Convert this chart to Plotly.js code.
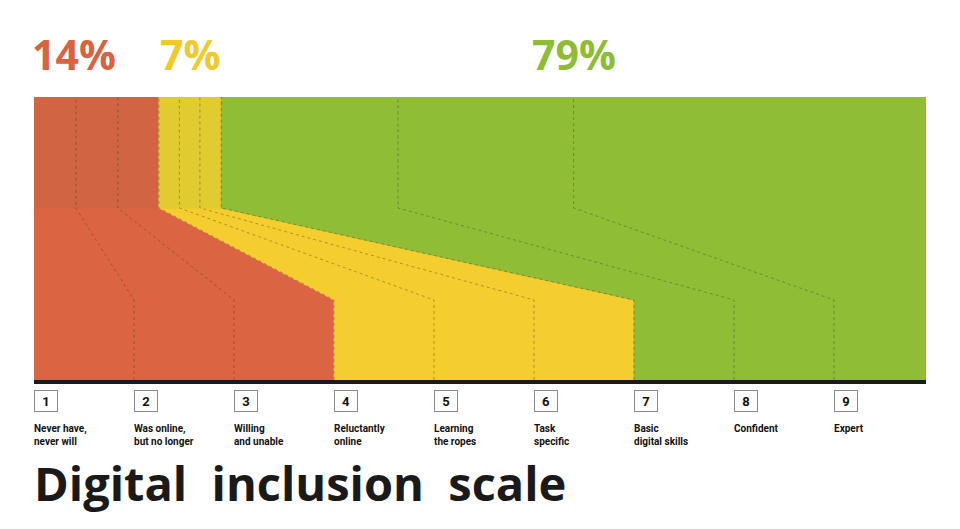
<!DOCTYPE html>
<html>
<head>
<meta charset="utf-8">
<script src="https://cdn.plot.ly/plotly-3.0.1.min.js"></script>
<style>html,body{margin:0;padding:0;background:#fff}#chart{width:960px;height:529px}</style>
</head>
<body>
<div id="chart"></div>
<script>
// ---- data ----
const levels = [1, 2, 3, 4, 5, 6, 7, 8, 9];
const levelNames = [
  "Never have,<br>never will",
  "Was online,<br>but no longer",
  "Willing<br>and unable",
  "Reluctantly<br>online",
  "Learning<br>the ropes",
  "Task<br>specific",
  "Basic<br>digital skills",
  "Confident",
  "Expert"
];
// share of population (%) for each level, as shown in the top band
const levelShares = [4.7, 4.7, 4.6, 2.3, 2.3, 2.4, 19.8, 19.7, 39.5];
const groupLabels = ["14%", "7%", "79%"];
const groupShares = [14, 7, 79];
const groupLevelCounts = [3, 3, 3];

// ---- styling / geometry ----
const topColors = ["#D06443", "#E0CB31", "#8FBD35"];
const bottomColors = ["#DB6443", "#F4CD2F", "#8FBD35"];
const pctColors = ["#D9623F", "#F2C92A", "#8EBD35"];
const scaleEnd = 8.92;          // bottom scale: one unit per level, last slot slightly narrower
const bandBottom = 80, bandMid = 172, bandTop = 283;
const plotTopPx = 97, plotBottomPx = 380;
const yPaper = px => (plotBottomPx - px) / (plotBottomPx - plotTopPx);

const cum = [0];
levelShares.forEach(s => cum.push(cum[cum.length - 1] + s));
const T = cum.map(c => c / 100 * scaleEnd);               // top-band boundaries
const B = levels.map((l, i) => i).concat([scaleEnd]);     // bottom-band boundaries

const traces = [];
let start = 0;
groupLevelCounts.forEach((n, g) => {
  const s = start, e = start + n;
  traces.push({
    type: "scatter", mode: "lines", hoverinfo: "skip", showlegend: false,
    x: [B[s], B[s], T[s], T[e], B[e], B[e], B[s]],
    y: [0, bandBottom, bandMid, bandMid, bandBottom, 0, 0],
    fill: "toself", fillcolor: bottomColors[g],
    line: { color: bottomColors[g], width: 0.8 }
  });
  traces.push({
    type: "scatter", mode: "lines", hoverinfo: "skip", showlegend: false,
    x: [T[s], T[s], T[e], T[e], T[s]],
    y: [bandMid, bandTop, bandTop, bandMid, bandMid],
    fill: "toself", fillcolor: topColors[g],
    line: { color: topColors[g], width: 0.8 }
  });
  start = e;
});
for (let k = 1; k < levels.length; k++) {
  traces.push({
    type: "scatter", mode: "lines", hoverinfo: "skip", showlegend: false,
    x: [B[k], B[k], T[k], T[k]],
    y: [0, bandBottom, bandMid, bandTop],
    line: { color: "rgba(45,45,45,0.45)", width: 0.8, dash: "dot" }
  });
}

const annotations = [];
levels.forEach((lv, i) => {
  annotations.push({
    x: B[i], xref: "x", xanchor: "left",
    y: yPaper(401), yref: "paper", yanchor: "middle",
    text: String(lv), showarrow: false,
    bordercolor: "#8a8a8a", borderwidth: 1, borderpad: 0,
    width: 22, height: 20, bgcolor: "#fff",
    font: { family: "Roboto", size: 13, weight: 700, color: "#111" }
  });
  annotations.push({
    x: B[i], xref: "x", xanchor: "left", xshift: -2,
    y: yPaper(421), yref: "paper", yanchor: "top",
    text: levelNames[i], showarrow: false, align: "left",
    font: { family: "Roboto", size: 10, weight: 700, color: "#111" }
  });
});
start = 0;
groupLevelCounts.forEach((n, g) => {
  const s = start, e = start + n;
  annotations.push({
    x: g === 0 ? T[s] : (T[s] + T[e]) / 2, xref: "x",
    xanchor: g === 0 ? "left" : "center", xshift: g === 0 ? -4 : 0,
    y: yPaper(54), yref: "paper", yanchor: "middle",
    text: groupLabels[g], showarrow: false,
    font: { family: "Open Sans", size: 41, weight: 700, color: pctColors[g] }
  });
  start = e;
});

const layout = {
  width: 960, height: 529,
  margin: { l: 34, r: 34, t: plotTopPx, b: 529 - plotBottomPx, pad: 0 },
  paper_bgcolor: "#fff", plot_bgcolor: "#fff",
  showlegend: false,
  title: {
    text: "Digital\u00A0 inclusion\u00A0 scale",
    xref: "paper", x: 0, xanchor: "left",
    yref: "container", y: 1 - 485 / 529, yanchor: "middle",
    font: { family: "Open Sans", size: 47, weight: 700, color: "#1a1a1a" }
  },
  xaxis: {
    range: [0, scaleEnd], fixedrange: true, showgrid: false, zeroline: false,
    showticklabels: false, ticks: "", showline: true, linecolor: "#1b1b1b", linewidth: 4
  },
  yaxis: {
    range: [0, bandTop], fixedrange: true, showgrid: false, zeroline: false,
    showticklabels: false, ticks: "", showline: false
  },
  annotations: annotations
};

Plotly.newPlot("chart", traces, layout, { displayModeBar: false, staticPlot: true });
</script>
</body>
</html>
